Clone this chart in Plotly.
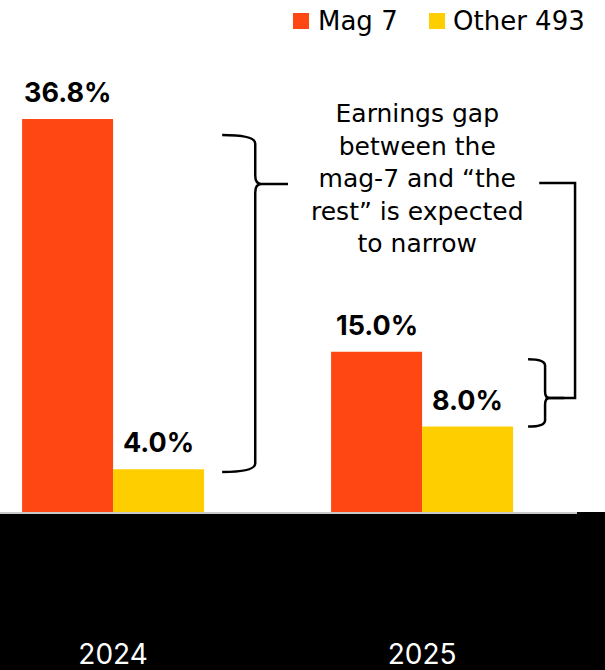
import plotly.graph_objects as go

# --- data -------------------------------------------------------------
years = ["2024", "2025"]
mag7 = [36.8, 15.0]
other493 = [4.0, 8.0]
series_names = ["Mag 7", "Other 493"]
note_text = "Earnings gap<br>between the<br>mag-7 and \u201cthe<br>rest\u201d is expected<br>to narrow"

# --- style ------------------------------------------------------------
RED = "#FF4713"
YELLOW = "#FFCE00"
FONT = "Inter"
TEXT_FONT = "DejaVu Sans"
W, H = 605, 670
M_L, M_R, M_T, M_B = 0, 28, 60, 158
PLOT_W = W - M_L - M_R
PLOT_H = H - M_T - M_B

BAR_W = 0.2945                    # width of one bar in category units
X_RANGE = [-0.366, -0.366 + PLOT_W / 309.0]
Y_RANGE = [0, PLOT_H / 10.68]

x_pos = list(range(len(years)))

fig = go.Figure()
fig.add_bar(x=x_pos, y=mag7, name=series_names[0], marker_color=RED,
            marker_line_width=0, showlegend=False)
fig.add_bar(x=x_pos, y=other493, name=series_names[1], marker_color=YELLOW,
            marker_line_width=0, showlegend=False)

annotations = []
# value labels above each bar
for i in x_pos:
    for val, off in ((mag7[i], -BAR_W / 2), (other493[i], BAR_W / 2)):
        annotations.append(dict(
            x=i + off, y=val, xref="x", yref="y", text=f"<b>{val:.1f}%</b>",
            showarrow=False, yanchor="bottom", xanchor="center", yshift=8,
            font=dict(family=FONT, size=27, color="#000000")))

# explanatory note
annotations.append(dict(
    x=0.985, y=31.2, xref="x", yref="y", text=note_text, showarrow=False,
    xanchor="center", yanchor="middle", align="center",
    font=dict(family=TEXT_FONT, size=25, color="#000000")))


def px_x(px):
    return (px - M_L) / PLOT_W


def px_y(py):
    return (H - M_B - py) / PLOT_H


# legend drawn as swatches + labels
shapes = []
legend_items = [(series_names[0], RED, 293, 316), (series_names[1], YELLOW, 429, 451)]
for name, col, sx, tx in legend_items:
    shapes.append(dict(type="rect", xref="paper", yref="paper",
                       x0=px_x(sx), x1=px_x(sx + 16), y0=px_y(29), y1=px_y(13),
                       fillcolor=col, line_width=0))
    annotations.append(dict(x=px_x(tx), y=px_y(21), xref="paper", yref="paper",
                            text=name, showarrow=False, xanchor="left",
                            yanchor="middle",
                            font=dict(family=TEXT_FONT, size=26, color="#000000")))

# black band under the axis
shapes.append(dict(type="rect", xref="paper", yref="paper", layer="below",
                   x0=-0.05, x1=1.2, y0=-0.45, y1=0,
                   fillcolor="#000000", line_width=0))


def brace(x_arm, x_v, x_tip, y_top, y_bot, y_tip, rx=0.02, ry=0.8):
    """Right-facing curly brace path in data units."""
    return (f"M{x_arm},{y_top} Q{x_v},{y_top} {x_v},{y_top - ry} "
            f"L{x_v},{y_tip + ry} Q{x_v},{y_tip} {x_v + rx},{y_tip} "
            f"L{x_tip},{y_tip} M{x_v + rx},{y_tip} Q{x_v},{y_tip} {x_v},{y_tip - ry} "
            f"L{x_v},{y_bot + ry} Q{x_v},{y_bot} {x_arm},{y_bot}")


line_style = dict(color="#000000", width=2.5)
shapes.append(dict(type="path", xref="x", yref="y", line=line_style,
                   path=brace(0.353, 0.460, 0.566, mag7[0] - 1.5, other493[0] - 0.25, 30.7)))
shapes.append(dict(type="path", xref="x", yref="y", line=line_style,
                   path=brace(1.343, 1.398, 1.46, mag7[1] - 0.7, other493[1], 10.67,
                              rx=0.015, ry=0.6)))
# connector from the note to the 2025 brace
shapes.append(dict(type="path", xref="x", yref="y", line=line_style,
                   path="M1.379,30.8 L1.495,30.8 L1.495,10.67 L1.40,10.67"))

fig.update_layout(
    width=W, height=H,
    margin=dict(l=M_L, r=M_R, t=M_T, b=M_B, pad=0, autoexpand=False),
    paper_bgcolor="#FFFFFF", plot_bgcolor="#FFFFFF",
    barmode="group", bargap=1 - 2 * BAR_W, bargroupgap=0,
    showlegend=False,
    xaxis=dict(range=X_RANGE, tickvals=x_pos, ticktext=years,
               showgrid=False, zeroline=False, showline=True,
               linecolor="#C8C8C8", linewidth=2, ticks="",
               automargin=False, ticklabelstandoff=116,
               tickfont=dict(family=FONT, size=28, color="#FFFFFF")),
    yaxis=dict(range=Y_RANGE, visible=False, showgrid=False, zeroline=False,
               automargin=False),
    annotations=annotations,
    shapes=shapes,
)

fig.write_html("out.html")
